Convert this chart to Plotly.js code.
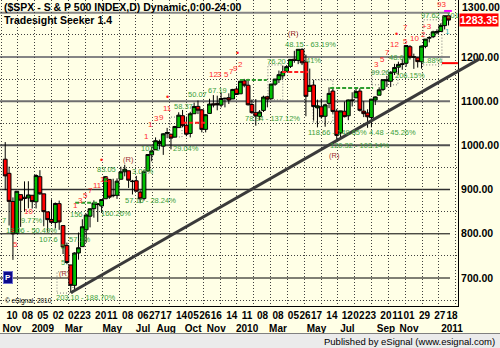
<!DOCTYPE html>
<html><head><meta charset="utf-8">
<script src="https://cdn.plot.ly/plotly-3.0.1.min.js"></script>
<style>html,body{margin:0;padding:0;background:#FFFFE6;}#chart{width:500px;height:348px;}</style>
</head><body><div id="chart"></div>
<script>
// ---- weekly S&P 500 bars (week starting Monday) ----
const weeks = [
'2008-11-03','2008-11-10','2008-11-17','2008-11-24','2008-12-01','2008-12-08','2008-12-15','2008-12-22','2008-12-29',
'2009-01-05','2009-01-12','2009-01-19','2009-01-26','2009-02-02','2009-02-09','2009-02-16','2009-02-23','2009-03-02','2009-03-09','2009-03-16','2009-03-23','2009-03-30',
'2009-04-06','2009-04-13','2009-04-20','2009-04-27','2009-05-04','2009-05-11','2009-05-18','2009-05-25','2009-06-01','2009-06-08','2009-06-15','2009-06-22','2009-06-29',
'2009-07-06','2009-07-13','2009-07-20','2009-07-27','2009-08-03','2009-08-10','2009-08-17','2009-08-24','2009-08-31','2009-09-07','2009-09-14','2009-09-21','2009-09-28',
'2009-10-05','2009-10-12','2009-10-19','2009-10-26','2009-11-02','2009-11-09','2009-11-16','2009-11-23','2009-11-30','2009-12-07','2009-12-14','2009-12-21','2009-12-28',
'2010-01-04','2010-01-11','2010-01-18','2010-01-25','2010-02-01','2010-02-08','2010-02-15','2010-02-22','2010-03-01','2010-03-08','2010-03-15','2010-03-22','2010-03-29',
'2010-04-05','2010-04-12','2010-04-19','2010-04-26','2010-05-03','2010-05-10','2010-05-17','2010-05-24','2010-05-31','2010-06-07','2010-06-14','2010-06-21','2010-06-28',
'2010-07-05','2010-07-12','2010-07-19','2010-07-26','2010-08-02','2010-08-09','2010-08-16','2010-08-23','2010-08-30','2010-09-06','2010-09-13','2010-09-20','2010-09-27',
'2010-10-04','2010-10-11','2010-10-18','2010-10-25','2010-11-01','2010-11-08','2010-11-15','2010-11-22','2010-11-29','2010-12-06','2010-12-13','2010-12-20','2010-12-27',
'2011-01-03','2011-01-10','2011-01-17'];
const openP = [
968.7,936.8,873.2,801.2,888.6,882.7,881.1,887.2,872.4,
929.2,890.4,849.6,832.5,825.4,868.2,818.6,773.3,729.6,683.4,756.6,771.0,809.1,
839.8,856.9,868.3,862.8,879.2,923.0,886.1,887.0,923.3,940.3,942.5,918.1,919.9,
894.3,879.6,942.1,978.6,990.2,1008.9,998.2,1026.6,1025.2,1018.7,1040.2,1067.1,1045.4,
1026.9,1071.6,1088.2,1080.4,1036.2,1072.3,1094.1,1094.9,1091.1,1105.5,1107.9,1105.0,1127.5,
1116.6,1146.0,1136.0,1092.4,1073.9,1065.5,1079.1,1110.0,1105.4,1138.4,1148.5,1157.3,1167.7,
1178.7,1194.9,1192.1,1217.1,1188.6,1122.3,1136.5,1084.8,1087.3,1065.8,1095.0,1122.8,1077.5,
1028.1,1077.2,1066.9,1102.9,1107.5,1122.8,1077.5,1073.4,1062.9,1102.6,1113.4,1126.6,1148.6,
1145.0,1165.3,1176.8,1184.7,1185.7,1223.2,1200.4,1198.1,1189.1,1223.9,1242.5,1245.8,1254.7,
1257.6,1270.8,1293.2];
const highP = [
1007.5,951.9,882.3,896.3,888.6,918.6,918.9,887.4,934.7,
943.9,890.4,849.6,877.9,870.8,875.0,818.6,780.1,729.6,758.3,803.0,832.9,845.6,
858.0,875.6,868.3,878.2,930.2,923.0,924.6,925.4,951.7,956.2,942.5,922.0,931.0,
898.7,944.0,979.8,996.7,1018.0,1013.1,1027.6,1039.5,1025.2,1044.1,1074.8,1080.1,1065.1,
1076.0,1096.6,1101.4,1081.9,1071.0,1105.4,1113.7,1112.4,1119.1,1108.0,1117.7,1127.8,1133.5,
1145.9,1150.4,1150.5,1103.7,1104.7,1080.0,1112.4,1112.3,1139.0,1150.0,1169.2,1180.2,1181.4,
1194.7,1213.9,1217.3,1219.8,1205.1,1173.6,1147.7,1103.5,1105.7,1094.2,1131.2,1131.2,1082.6,
1078.3,1099.1,1103.7,1120.0,1128.8,1129.2,1100.1,1081.6,1105.1,1110.9,1131.5,1148.9,1157.2,
1167.7,1184.4,1189.4,1196.1,1227.1,1226.8,1207.4,1199.0,1225.6,1240.4,1247.0,1259.4,1262.6,
1276.2,1293.2,1296.1];
const lowP = [
898.6,818.7,741.0,800.0,815.7,851.4,857.7,857.1,857.3,
888.3,817.0,804.5,821.7,812.3,809.0,754.3,731.1,666.8,672.9,741.4,771.0,779.8,
814.5,836.5,826.8,847.1,879.2,878.9,882.5,878.9,923.3,930.0,903.8,888.9,895.0,
869.3,875.3,940.4,963.9,990.2,990.8,978.5,1016.2,991.0,1017.4,1040.2,1041.2,1020.6,
1018.0,1071.6,1070.8,1029.4,1029.4,1072.3,1085.9,1079.3,1085.9,1085.9,1093.7,1105.0,1114.8,
1116.6,1131.4,1090.2,1071.6,1044.5,1056.5,1075.5,1086.0,1105.4,1134.7,1141.1,1150.7,1165.6,
1175.1,1186.9,1183.7,1181.6,1065.8,1122.3,1055.9,1040.8,1060.4,1042.2,1084.1,1071.6,1010.9,
1018.4,1063.3,1056.9,1088.0,1107.2,1076.6,1063.9,1039.7,1040.9,1091.2,1113.4,1122.8,1131.9,
1131.9,1159.1,1159.7,1171.0,1177.7,1194.1,1173.0,1176.0,1173.6,1219.7,1232.9,1242.7,1251.5,
1257.6,1262.2,1271.3];
const closeP = [
931.0,873.3,800.0,896.2,876.1,879.7,887.9,872.8,931.8,
890.4,850.1,832.0,825.9,868.6,826.8,770.1,735.1,683.4,756.6,768.5,815.9,842.5,
856.6,869.6,866.2,877.5,929.2,882.9,887.0,919.1,940.1,946.2,921.2,918.9,896.4,
879.1,940.4,979.3,987.5,1010.5,1004.1,1026.1,1028.9,1016.4,1042.7,1068.3,1044.4,1025.2,
1071.5,1087.7,1079.6,1036.2,1069.3,1093.5,1091.4,1091.5,1106.0,1106.4,1102.5,1126.5,1115.1,
1145.0,1136.0,1091.8,1073.9,1066.2,1075.5,1109.2,1104.5,1138.7,1150.0,1159.9,1166.6,1178.1,
1194.4,1192.1,1217.3,1186.7,1110.9,1135.7,1087.7,1089.4,1064.9,1091.6,1117.5,1076.8,1022.6,
1078.0,1064.9,1102.7,1101.6,1121.6,1079.3,1071.7,1064.6,1104.5,1109.6,1125.6,1148.7,1146.2,
1165.2,1176.2,1183.1,1183.3,1225.9,1199.2,1199.7,1189.4,1224.7,1240.4,1243.9,1256.8,1257.6,
1271.5,1293.2,1283.35];
const lastPrice = 1283.35;

// ---- axis labels ----
const tickDates = ['2008-11-10','2008-12-08','2009-01-05','2009-02-02','2009-03-02','2009-03-23','2009-04-20','2009-05-11','2009-06-08','2009-07-06','2009-07-27','2009-08-17','2009-09-14','2009-10-05','2009-10-26','2009-11-16','2009-12-14','2010-01-11','2010-02-08','2010-03-08','2010-04-05','2010-04-26','2010-05-17','2010-06-14','2010-07-12','2010-08-02','2010-08-23','2010-09-20','2010-10-11','2010-11-01','2010-11-29','2010-12-27','2011-01-18'];
const tickDays = ['10','08','05','02','02','23','20','11','08','06','27','17','14','05','26','16','14','11','08','08','05','26','17','14','12','02','23','20','11','01','29','27','18'];
const tickMonths = ['Nov','','2009','','Mar','','','May','','Jul','','Aug','','Oct','','Nov','','2010','','Mar','','','May','','Jul','','','Sep','','Nov','','','2011'];
const yTicks = [700,800,900,1000,1100,1200,1300];
const levelLines = [700,800,900,1000,1100,1200,1300];

// ---- Tradesight study annotations [text, date, price] ----
const greenLabels = [
['203.10 - 188.70%','2009-03-31',655],['48.15 - 63.19%','2010-05-14',1229],['97.62 - 101','2011-01-03',1293],
['48.6','2010-10-17',1198],['1.88%','2010-12-20',1193],['206.15%','2010-11-10',1159],['99.26','2010-09-18',1164],
['118.66 - 149.65%','2010-07-02',1030],['4.48 - 45.26%','2010-10-09',1030],['120.32 - 103.14%','2010-08-11',999],
['78.94 - 137.12%','2010-03-06',1060],['76.20','2010-03-13',1189],['41%','2010-05-18',1191],['67.19','2009-11-26',1125],
['50.07','2009-10-21',1114],['58.37','2009-09-24',1087],['29.04%','2009-09-29',994],['83.05','2009-05-07',946],
['3.08%','2009-07-13',942],['107.1','2009-07-26',994],['57.16 - 28.24%','2009-07-26',876],['156','2009-03-15',843],
['160.26%','2009-05-25',845],['107.6','2009-01-23',788],['57.1%','2009-03-20',788],['18.06 - 50.49%','2008-12-22',808],
['7','2008-11-03',831],['9.77%','2008-12-24',831],['5','2009-02-17',771],['5','2009-02-18',734]];
const redLabels = [
['12','2009-11-19',1160],['3','2009-11-30',1160],['5','2009-12-11',1161],['7','2009-12-20',1168],['9','2009-12-29',1173],['2','2010-01-07',1182],
['1','2009-03-12',865],['3','2009-03-21',876],['5','2009-03-30',887],['7','2009-04-08',899],['11','2009-04-21',910],['12','2009-05-05',922],
['1','2009-07-26',1048],['3','2009-08-06',1060],['9','2009-08-15',1064],['11','2009-08-27',1083],['1','2009-07-20',1021],
['10','2008-12-17',851],['5','2008-11-23',775],['93','2011-01-07',1318],
['7','2010-11-01',1266],['+3','2010-12-11',1268],['2','2010-12-04',1250],['12','2010-10-12',1229],['5','2010-11-01',1236],['10','2010-11-19',1241],
['7','2010-09-30',1209],['3','2010-09-11',1183],['5','2010-09-22',1195]];
const redDots = [['2010-01-01',1209],['2009-04-28',967],['2009-08-26',1109],['2010-10-16',1252]];
const rLabels = [['(R)','2009-02-20',711],['(R)','2010-04-13',1252],['(R)','2010-06-26',976],['(R)','2009-06-16',969]];
const cyanLabels = [['1','2011-01-18',1257]];
const dashLines = [['2009-03-12','2009-04-26',870,'#2E9E2E'],['2010-01-05','2010-02-23',1148,'#2E9E2E'],['2010-06-18','2010-09-04',1130,'#2E9E2E'],['2010-03-23','2010-05-09',1166,'#FF2020'],['2009-09-24','2009-11-06',1051,'#FF2020']];
const solidMarks = [['2011-01-07','2011-02-05',1186,'#FF0000'],['2011-01-11','2011-01-25',1304,'#FF00FF']];
const dotBoxes = [['2009-02-07','2009-03-08',666,714],['2010-02-25','2010-03-24',1103,1182],['2010-05-18','2010-06-23',1053,1148],['2010-09-02','2010-10-19',1137,1166],['2010-12-04','2011-01-07',1182,1284],['2009-08-31','2009-09-22',1019,1064]];
const trendFromWeek = '2009-03-02', trendToWeek = '2010-06-28';

// ---- build ----
const CREAM = '#FFFFE6';
const F = 'Liberation Sans, Arial, sans-serif';
const DAY = 86400000;
const toMs = s => Date.parse(s + 'T00:00:00Z');
const fmt = ms => new Date(ms).toISOString().slice(0,19).replace('T',' ');
const xMid = weeks.map(w => fmt(toMs(w) + 2*DAY));
const r0 = Date.parse('2008-10-26T12:00:00Z'), r1 = Date.parse('2011-02-05T05:00:00Z');
const xRange = [fmt(r0), fmt(r1)];
const W = 458, H = 306; // plot area in px
const px = v => v / W, py = v => 1 - v / H;

const trace = {
  type:'candlestick', x:xMid, open:openP, high:highP, low:lowP, close:closeP,
  increasing:{line:{color:'#000', width:1}, fillcolor:'#00C000'},
  decreasing:{line:{color:'#000', width:1}, fillcolor:'#FF0000'},
  whiskerwidth:0, hoverinfo:'skip', showlegend:false
};

const shapes = [];
shapes.push({type:'rect', xref:'paper', yref:'paper', x0:0, x1:px(236), y0:py(27), y1:1, fillcolor:CREAM, line:{width:0}, layer:'between'});
const lvlColor = ['#000','#000','#303030','#505050','#6e6e6e','#858585','#858585'];
const lvlWidth = [1,1,1.5,2,2,2,2];
levelLines.forEach((v,i) => shapes.push({type:'line', xref:'paper', yref:'y', x0:0, x1:px(450), y0:v, y1:v, line:{color:lvlColor[i], width:lvlWidth[i]}, layer:'between'}));
dotBoxes.forEach(b => shapes.push({type:'rect', xref:'x', yref:'y', x0:b[0], x1:b[1], y0:b[2], y1:b[3], line:{color:'#777', width:1, dash:'1px,2px'}, layer:'between'}));
dashLines.forEach(d => shapes.push({type:'line', xref:'x', yref:'y', x0:d[0], x1:d[1], y0:d[2], y1:d[2], line:{color:d[3], width:2, dash:'4px,2px'}, layer:'above'}));
solidMarks.forEach(d => shapes.push({type:'line', xref:'x', yref:'y', x0:d[0], x1:d[1], y0:d[2], y1:d[2], line:{color:d[3], width:2}, layer:'above'}));
const i1 = weeks.indexOf(trendFromWeek), i2 = weeks.indexOf(trendToWeek);
const t1 = toMs(weeks[i1]) + 2*DAY, p1 = lowP[i1];
const t2 = toMs(weeks[i2]) + 2*DAY, p2 = lowP[i2];
const xEnd = 480 / W;
const tEnd = r0 + xEnd * (r1 - r0);
const pEnd = p1 + (p2 - p1) * (tEnd - t1) / (t2 - t1);
shapes.push({type:'line', xref:'paper', yref:'y', x0:(t1 - r0)/(r1 - r0), y0:p1, x1:xEnd, y1:pEnd, line:{color:'#3a3a3a', width:3}, layer:'above'});
shapes.push({type:'rect', xref:'paper', yref:'paper', x0:0, x1:500/W, y0:py(348), y1:py(333.5), fillcolor:'#EBEBEB', line:{width:0}, layer:'above'});
shapes.push({type:'line', xref:'paper', yref:'paper', x0:0, x1:500/W, y0:py(333.5), y1:py(333.5), line:{color:'#808080', width:1}, layer:'above'});

const ann = [];
const dataLab = (arr, color, size, weight) => arr.forEach(([t,d,p]) => ann.push({text:t, x:d, y:p, xref:'x', yref:'y', showarrow:false, xanchor:'center', yanchor:'middle', font:{family:F, size:size, color:color, weight:weight||'normal'}}));
dataLab(greenLabels, '#3A9E3A', 7.5);
dataLab(redLabels, '#FF2A2A', 8);
dataLab(rLabels, '#A03030', 7.5);
dataLab(cyanLabels, '#30B8B8', 8);
redDots.forEach(([d,p]) => ann.push({text:'•', x:d, y:p, xref:'x', yref:'y', showarrow:false, font:{family:F, size:9, color:'#FF2020'}}));
ann.push({text:'($SPX - S & P 500 INDEX,D) Dynamic,0:00-24:00', xref:'paper', yref:'paper', x:px(2), y:py(7), xanchor:'left', yanchor:'middle', showarrow:false, font:{family:F, size:10.5, color:'#000', weight:'bold'}});
ann.push({text:'Tradesight Seeker 1.4', xref:'paper', yref:'paper', x:px(2), y:py(20), xanchor:'left', yanchor:'middle', showarrow:false, font:{family:F, size:10.5, color:'#000', weight:'bold'}});
ann.push({text:'© eSignal, 2010', xref:'paper', yref:'paper', x:px(3), y:py(301), xanchor:'left', yanchor:'middle', showarrow:false, font:{family:F, size:6.5, color:'#000'}});
ann.push({text:'P', xref:'paper', yref:'paper', x:px(8), y:py(277), xanchor:'center', yanchor:'middle', showarrow:false, bgcolor:'#0A0A8A', bordercolor:'#7070D0', borderwidth:1, borderpad:1, font:{family:F, size:8, color:'#fff', weight:'bold'}});
const topTick = yTicks[yTicks.length - 1];
ann.push({text:topTick.toFixed(2), xref:'paper', yref:'paper', x:px(460), y:py(7), xanchor:'left', yanchor:'middle', showarrow:false, font:{family:F, size:10.5, color:'#000', weight:'bold'}});
ann.push({text:lastPrice.toFixed(2), xref:'paper', yref:'y', x:px(459), y:lastPrice, xanchor:'left', yanchor:'middle', showarrow:false, bgcolor:'#FF0000', borderpad:0, font:{family:F, size:10.5, color:'#fff', weight:'bold'}});
ann.push({text:'Published by eSignal (www.esignal.com)', xref:'paper', yref:'paper', x:px(497), y:py(341), xanchor:'right', yanchor:'middle', showarrow:false, font:{family:F, size:9.5, color:'#000'}});

const axTicks = yTicks.slice(0, -1);
const layout = {
  width:500, height:348,
  margin:{l:0, r:42, t:0, b:42, pad:0},
  paper_bgcolor:CREAM, plot_bgcolor:CREAM,
  showlegend:false, hovermode:false,
  boxgap:0.02, boxgroupgap:0,
  xaxis:{type:'date', range:xRange, rangeslider:{visible:false}, fixedrange:true,
    tickmode:'array', tickvals:tickDates, ticktext:tickDays.map((d,i) => tickMonths[i] ? d + '<br>' + tickMonths[i] : d),
    tickangle:0, ticks:'', showgrid:false, zeroline:false, showline:true, linecolor:'#000', linewidth:1,
    ticklabelshift:4, tickfont:{family:F, size:10, color:'#000', weight:'bold'},
    minor:{tickmode:'linear', tick0:'2008-10-28 14:00', dtick:30.58*DAY, showgrid:true, gridcolor:'#404040', griddash:'1px,2px', gridwidth:1, ticks:''}},
  yaxis:{side:'right', range:[636.7,1328.8], fixedrange:true,
    tickmode:'array', tickvals:axTicks, ticktext:axTicks.map(v => v.toFixed(2)),
    ticks:'', showgrid:false, zeroline:false, showline:true, linecolor:'#000', linewidth:1,
    tickfont:{family:F, size:10.5, color:'#000', weight:'bold'},
    minor:{tickmode:'linear', tick0:650, dtick:100, showgrid:true, gridcolor:'#404040', griddash:'1px,2px', gridwidth:1, ticks:''}},
  shapes:shapes, annotations:ann
};
Plotly.newPlot('chart', [trace], layout, {staticPlot:true, displayModeBar:false});
</script></body></html>
